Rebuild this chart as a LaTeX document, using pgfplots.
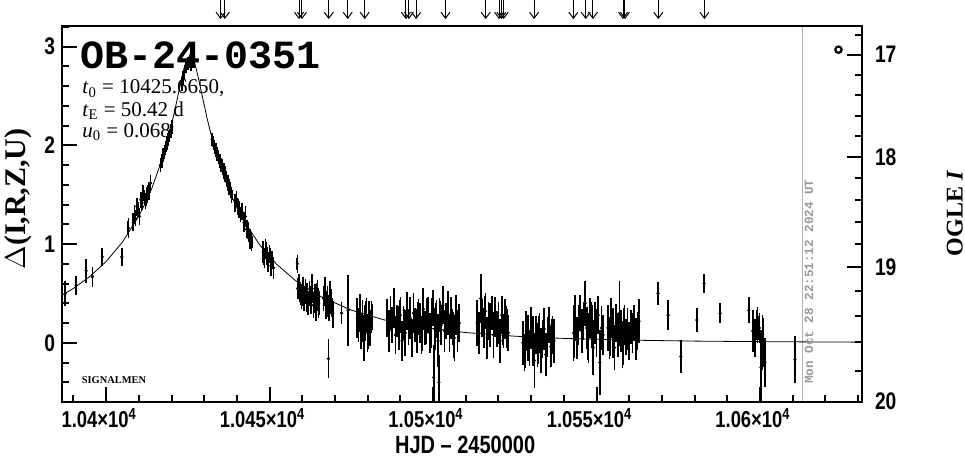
\documentclass[border=0pt]{standalone}
\usepackage{pgfplots}
\pgfplotsset{compat=1.18}
\usepackage{pgfplotstable}
\usetikzlibrary{arrows.meta}
\usepackage{fontspec}
\setmainfont{Liberation Serif}
\newfontfamily\tickfont[FakeStretch=0.8]{Liberation Sans}
\newfontfamily\monofont{Liberation Mono}
\newcommand\tf{\fontsize{12}{14}\tickfont\bfseries}

% observed points: HJD-2450000, Delta, error
\pgfplotstableread{
t d e
10387.5 0.50 0.10
10390.8 0.58 0.07
10393.9 0.73 0.09
10395.8 0.67 0.07
10398.8 0.87 0.06
10404.8 0.87 0.06
10406.8 1.16 0.07
10408.3 1.22 0.06
10408.7 1.30 0.07
10409.0 1.26 0.05
10409.4 1.38 0.06
10409.8 1.35 0.05
10410.2 1.28 0.06
10410.6 1.45 0.05
10411.0 1.42 0.04
10411.3 1.52 0.05
10411.7 1.48 0.04
10412.1 1.44 0.05
10412.5 1.50 0.05
10412.9 1.56 0.04
10413.2 1.53 0.05
10413.6 1.62 0.05
10416.6 1.80 0.04
10417.0 1.84 0.04
10417.4 1.90 0.04
10417.8 1.93 0.04
10418.2 1.97 0.04
10418.6 2.02 0.04
10419.0 2.06 0.04
10419.4 2.10 0.04
10419.8 2.15 0.04
10420.1 2.19 0.04
10423.2 2.62 0.04
10423.6 2.68 0.04
10424.0 2.74 0.04
10424.5 2.80 0.04
10425.0 2.83 0.04
10425.5 2.85 0.04
10426.0 2.82 0.04
10432.4 2.06 0.04
10432.8 2.02 0.04
10433.2 1.98 0.04
10433.6 1.95 0.04
10434.0 1.91 0.04
10434.4 1.88 0.04
10434.8 1.84 0.04
10435.2 1.80 0.04
10435.6 1.78 0.05
10436.0 1.74 0.05
10436.4 1.71 0.05
10436.8 1.66 0.05
10437.2 1.62 0.05
10437.6 1.58 0.05
10438.0 1.55 0.05
10438.4 1.50 0.05
10439.5 1.42 0.06
10439.9 1.46 0.05
10440.3 1.38 0.05
10440.7 1.35 0.06
10441.1 1.30 0.05
10441.5 1.33 0.06
10442.2 1.22 0.07
10442.6 1.28 0.08
10443.0 1.15 0.06
10443.5 1.12 0.07
10444.0 1.05 0.07
10444.5 1.02 0.06
10448.0 0.92 0.08
10448.4 0.86 0.07
10448.8 0.95 0.07
10449.2 0.88 0.06
10449.6 0.82 0.07
10450.0 0.90 0.06
10450.4 0.78 0.07
10450.8 0.84 0.06
10451.2 0.76 0.08
10458.5 0.80 0.06
10458.6 0.55 0.08
10459.0 0.60 0.07
10459.4 0.50 0.09
10459.8 0.47 0.10
10460.2 0.56 0.08
10460.6 0.44 0.09
10461.0 0.52 0.10
10461.4 0.46 0.12
10461.8 0.40 0.09
10462.2 0.50 0.10
10462.6 0.43 0.11
10463.0 0.55 0.12
10463.4 0.38 0.10
10463.8 0.45 0.12
10464.2 0.36 0.11
10464.6 0.48 0.13
10465.0 0.40 0.12
10466.5 0.45 0.10
10466.9 0.52 0.12
10467.3 0.38 0.11
10467.7 0.42 0.13
10468.0 -0.16 0.17
10468.1 0.35 0.10
10468.5 0.48 0.12
10468.9 0.40 0.11
10469.3 0.30 0.12
10472.0 0.30 0.08
10474.0 0.33 0.33
10476.8 0.25 0.17
10477.2 0.18 0.14
10477.6 0.30 0.16
10478.0 0.12 0.15
10478.4 0.22 0.18
10478.8 0.05 0.20
10479.2 0.20 0.15
10479.6 0.28 0.14
10480.0 0.10 0.16
10480.4 0.22 0.17
10480.8 0.15 0.15
10481.2 0.26 0.13
10486.0 0.25 0.16
10486.5 0.12 0.18
10487.0 0.30 0.14
10487.5 0.18 0.15
10488.0 0.35 0.17
10488.5 0.08 0.16
10489.0 0.22 0.13
10489.5 0.15 0.19
10490.0 0.28 0.15
10490.5 0.02 0.17
10491.0 0.20 0.14
10491.5 0.10 0.20
10492.0 0.32 0.16
10492.5 0.16 0.15
10493.0 0.25 0.18
10493.5 0.05 0.16
10494.0 0.30 0.17
10494.5 0.18 0.14
10495.0 0.12 0.19
10495.5 0.26 0.15
10496.0 0.20 0.17
10496.5 0.08 0.16
10497.0 0.34 0.18
10497.5 0.15 0.14
10498.0 0.22 0.20
10498.5 0.28 0.15
10499.0 0.10 0.17
10499.5 0.20 0.22
10500.0 0.35 0.15
10500.2 -0.35 0.30
10500.5 0.14 0.18
10501.0 0.24 0.16
10501.5 0.02 0.24
10501.8 -0.40 0.25
10502.0 0.28 0.14
10502.5 0.18 0.17
10503.0 0.38 0.16
10503.5 0.12 0.18
10504.0 0.22 0.15
10504.5 0.30 0.19
10505.0 0.10 0.16
10505.5 0.25 0.18
10506.0 0.16 0.15
10506.5 0.05 0.20
10507.0 0.28 0.17
10507.5 0.12 0.18
10508.0 0.20 0.16
10513.5 0.20 0.20
10514.0 0.10 0.18
10514.6 0.45 0.22
10515.0 0.25 0.16
10515.5 0.15 0.17
10516.0 0.32 0.15
10516.5 0.05 0.18
10517.0 0.22 0.16
10517.5 0.18 0.19
10518.0 0.30 0.14
10518.5 0.08 0.20
10519.0 0.26 0.17
10519.5 0.14 0.15
10520.0 0.20 0.18
10520.5 0.02 0.19
10521.0 0.28 0.16
10521.5 0.12 0.14
10522.0 0.24 0.17
10522.5 0.16 0.18
10523.0 0.10 0.15
10527.5 0.00 0.19
10528.0 -0.10 0.16
10528.5 0.12 0.17
10529.0 0.05 0.20
10529.5 -0.05 0.15
10530.0 0.15 0.18
10530.5 0.02 0.22
10531.0 -0.18 0.25
10531.5 0.08 0.16
10532.0 -0.02 0.19
10532.5 0.10 0.17
10533.0 -0.08 0.20
10533.5 0.04 0.16
10534.0 0.14 0.18
10534.5 -0.12 0.19
10535.0 0.06 0.17
10535.5 0.18 0.15
10536.0 -0.04 0.18
10536.5 0.08 0.16
10537.0 0.02 0.19
10543.0 0.10 0.25
10543.5 0.25 0.20
10544.0 0.05 0.18
10544.5 0.18 0.17
10545.0 0.30 0.15
10545.5 0.12 0.19
10546.0 0.22 0.16
10546.5 0.40 0.20
10547.0 0.15 0.18
10547.5 0.05 0.22
10548.0 0.25 0.17
10548.5 0.18 0.20
10549.0 -0.05 0.25
10549.5 0.20 0.18
10550.0 0.10 0.21
10550.5 0.28 0.16
10551.0 -0.20 0.30
10551.5 0.15 0.19
10552.0 0.08 0.17
10553.5 0.15 0.20
10554.0 0.05 0.18
10554.5 0.25 0.17
10555.0 0.10 0.22
10555.5 -0.05 0.20
10556.0 0.20 0.16
10556.5 0.08 0.19
10557.0 0.30 0.30
10557.5 0.12 0.18
10558.0 -0.02 0.21
10558.5 0.18 0.17
10559.0 0.06 0.15
10559.5 0.14 0.18
10560.0 0.02 0.16
10560.5 0.16 0.14
10561.0 0.10 0.17
10561.5 0.20 0.15
10562.0 0.04 0.18
10562.5 0.12 0.16
10563.0 0.22 0.19
10568.8 0.50 0.09
10571.9 0.28 0.12
10575.8 -0.14 0.14
10580.7 0.23 0.09
10582.9 0.60 0.07
10587.8 0.30 0.07
10596.6 0.33 0.10
10597.8 0.12 0.18
10598.5 0.05 0.16
10599.2 0.18 0.15
10599.8 0.15 0.12
10600.3 -0.25 0.35
10600.8 0.00 0.25
10601.5 -0.20 0.22
10610.7 -0.17 0.21
}\obs

% model light curve (t0=10425.6650, tE=50.42, u0=0.068)
\pgfplotstableread{
t d
10386.0 0.4725
10390.0 0.5508
10395.0 0.6710
10400.0 0.8233
10405.0 1.0206
10410.0 1.2838
10412.0 1.4154
10414.0 1.5676
10417.0 1.8469
10418.5 2.0166
10420.0 2.2111
10421.0 2.3553
10422.0 2.5090
10423.0 2.6652
10424.0 2.8061
10425.665 2.9206
10426.5 2.8895
10427.0 2.8443
10428.0 2.7146
10429.0 2.5609
10431.0 2.2574
10432.5 2.0571
10434.0 1.8823
10436.0 1.6828
10438.0 1.5140
10440.0 1.3693
10442.0 1.2435
10447.0 0.9910
10452.0 0.8007
10458.0 0.6277
10465.0 0.4784
10475.0 0.3304
10485.0 0.2323
10495.0 0.1661
10510.0 0.1034
10525.0 0.0666
10540.0 0.0443
10560.0 0.0268
10580.0 0.0170
10600.0 0.0113
10632.0 0.0062
}\model

\begin{document}
\begin{tikzpicture}[x=1pt,y=1pt]
\useasboundingbox (-31,-28.5) rectangle (451.5,201);
\begin{axis}[
  at={(0,0)}, anchor=south west, scale only axis,
  width=400pt, height=188pt,
  xmin=10386.5, xmax=10631.2, ymin=-0.6, ymax=3.21,
  axis line style={line width=1.2pt},
  tick style={line width=1pt, black},
  tick align=inside,
  major tick length=7.5pt, minor tick length=3.5pt,
  xtick pos=bottom, ytick pos=left,
  xtick={10400,10450,10500,10550,10600},
  xticklabels={1.04×10\textsuperscript{4},1.045×10\textsuperscript{4},1.05×10\textsuperscript{4},1.055×10\textsuperscript{4},1.06×10\textsuperscript{4}},
  minor xtick={10390,10400,...,10630},
  ytick={0,1,2,3}, yticklabels={0,1,2,3},
  minor ytick={-0.4,-0.2,0.2,0.4,0.6,0.8,1.2,1.4,1.6,1.8,2.2,2.4,2.6,2.8,3.2},
  scaled x ticks=false,
  tick label style={font=\tf},
  xticklabel style={font=\fontsize{11.5}{13}\tickfont\bfseries, yshift=0.5pt, xshift=-3.5pt},
  xlabel={HJD – 2450000},
  xlabel style={font=\fontsize{12.5}{14}\tickfont\bfseries, at={(axis description cs:0.504,-0.113)}, anchor=center},
  ylabel={$\Delta$(I,R,Z,U)},
  ylabel style={font=\fontsize{15}{17}\selectfont\bfseries, at={(axis description cs:-0.055,0.54)}, anchor=center},
]
\addplot[gray!60, line width=0.6pt] coordinates {(10612.9,-0.6) (10612.9,3.21)};
\addplot[black, line width=0.4pt] table[x=t, y=d] {\model};
\addplot[black, only marks, mark=*, mark size=0.6pt,
  error bars/.cd, y dir=both, y explicit,
  error bar style={line width=0.9pt},
  error mark options={mark size=1.5pt, line width=0.8pt}]
  table[x=t, y=d, y error=e] {\obs};
\addplot[black, only marks, mark=o, mark size=1.6pt, line width=1.1pt] coordinates {(10624.0,2.97)};
\end{axis}
\begin{axis}[
  at={(0,0)}, anchor=south west, scale only axis,
  width=400pt, height=188pt,
  xmin=10386.5, xmax=10631.2, ymin=-0.6, ymax=3.21,
  clip=false,
  axis line style={line width=1.2pt},
  tick style={line width=1pt, black},
  tick align=inside,
  major tick length=7.5pt, minor tick length=3.5pt,
  xtick pos=top, ytick pos=right,
  xtick=\empty, minor xtick={10390,10400,...,10630},
  ytick={2.919,1.879,0.766,-0.597}, yticklabels={17,18,19,20},
  minor ytick={3.123,2.714,2.508,2.300,2.091,1.665,1.447,1.226,0.999,0.524,0.272,0.004,-0.282},
  tick label style={font=\tf},
  yticklabel style={xshift=3pt},
  ylabel={OGLE \textit{I}},
  ylabel style={font=\fontsize{12}{14}\selectfont\bfseries, at={(axis description cs:1.116,0.501)}, anchor=center},
]
\addplot[black, line width=0.5pt, quiver={u=0, v=-0.19}, -{Straight Barb[length=3pt, width=4.5pt]}]
  coordinates {
  (10435.0,3.47) (10436.3,3.47) (10459.0,3.47) (10459.9,3.47) (10468.1,3.47)
  (10473.9,3.47) (10479.1,3.47) (10491.7,3.47) (10492.6,3.47) (10494.8,3.47)
  (10503.8,3.47) (10516.1,3.47) (10520.2,3.47) (10520.9,3.47) (10521.6,3.47)
  (10530.9,3.47) (10542.9,3.47) (10546.7,3.47) (10548.9,3.47) (10558.1,3.47)
  (10558.7,3.47) (10568.9,3.47) (10583.0,3.47)};
\node[anchor=base west, font=\fontsize{20}{20}\monofont\bfseries, inner sep=0pt] at (axis cs:10392.0,2.778) {OB-24-0351};
\node[anchor=west, font=\fontsize{10.5}{12}\selectfont, inner sep=0pt] at (axis cs:10392.6,2.575) {\textit{t}\textsubscript{0} = 10425.6650,};
\node[anchor=west, font=\fontsize{10.5}{12}\selectfont, inner sep=0pt] at (axis cs:10392.6,2.355) {\textit{t}\textsubscript{E} = 50.42 d};
\node[anchor=west, font=\fontsize{10.5}{12}\selectfont, inner sep=0pt] at (axis cs:10392.6,2.136) {\textit{u}\textsubscript{0} = 0.068};
\node[font=\fontsize{5.2}{6}\selectfont\bfseries] at (axis cs:10402.4,-0.38) {SIGNALMEN};
\node[rotate=90, font=\fontsize{6.3}{7}\monofont\bfseries, text=gray!80] at (axis cs:10615.0,0.62) {Mon Oct 28 22:51:12 2024 UT};
\end{axis}
\end{tikzpicture}
\end{document}
